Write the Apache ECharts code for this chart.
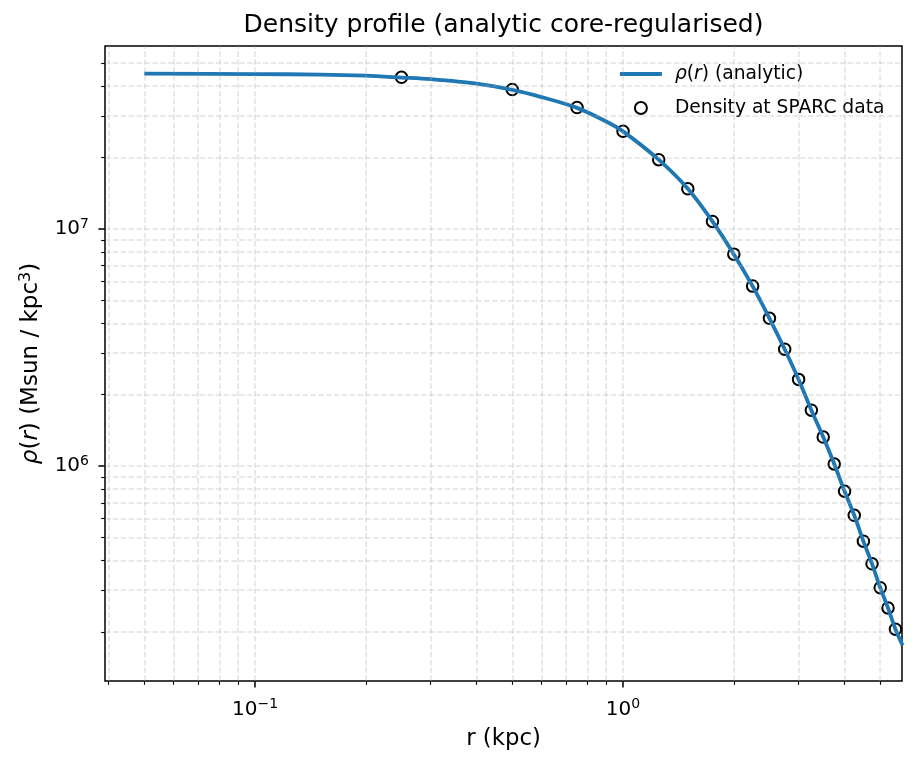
<!DOCTYPE html>
<html><head><meta charset="utf-8">
<script src="https://cdn.jsdelivr.net/npm/echarts@6/dist/echarts.min.js"></script>
<style>html,body{margin:0;padding:0;background:#fff}#c{width:917px;height:767px}</style>
</head><body><div id="c"></div>
<script>
// ---- data ----
const rData = [0.25, 0.5, 0.75, 1.0, 1.25, 1.5, 1.75, 2.0, 2.25, 2.5, 2.75, 3.0, 3.25, 3.5, 3.75, 4.0, 4.25, 4.5, 4.75, 5.0, 5.25, 5.5];
const rhoData = [4.36e7, 3.87e7, 3.25e7, 2.58e7, 1.96e7, 1.477e7, 1.076e7, 7.83e6, 5.74e6, 4.20e6, 3.11e6, 2.32e6, 1.72e6, 1.325e6, 1.02e6, 7.83e5, 6.20e5, 4.82e5, 3.87e5, 3.07e5, 2.52e5, 2.05e5];
const rCurve = [0.05, 0.1, 0.15, 0.2, 0.25, 0.3, 0.4, 0.5, 0.6, 0.75, 0.9, 1.0, 1.25, 1.5, 1.75, 2.0, 2.25, 2.5, 2.75, 3.0, 3.25, 3.5, 3.75, 4.0, 4.25, 4.5, 4.75, 5.0, 5.25, 5.5, 5.75];
const rhoCurve = [4.52e7, 4.50e7, 4.48e7, 4.43e7, 4.35e7, 4.28e7, 4.10e7, 3.86e7, 3.60e7, 3.24e7, 2.84e7, 2.58e7, 1.96e7, 1.477e7, 1.076e7, 7.83e6, 5.74e6, 4.20e6, 3.11e6, 2.32e6, 1.72e6, 1.325e6, 1.02e6, 7.83e5, 6.20e5, 4.82e5, 3.87e5, 3.07e5, 2.52e5, 2.05e5, 1.755e5];
const xMajorTicks = [0.1, 1];
const xMinorTicks = [0.04, 0.05, 0.06, 0.07, 0.08, 0.09, 0.2, 0.3, 0.4, 0.5, 0.6, 0.7, 0.8, 0.9, 2, 3, 4, 5];
const yMajorTicks = [1e6, 1e7];
const yMinorTicks = [2e5, 3e5, 4e5, 5e5, 6e5, 7e5, 8e5, 9e5, 2e6, 3e6, 4e6, 5e6, 6e6, 7e6, 8e6, 9e6, 2e7, 3e7, 4e7, 5e7];
const xRange = [0.0391, 5.73];
const yRange = [1.24e5, 5.91e7];
const titleText = 'Density profile (analytic core-regularised)';
const xName = 'r (kpc)';
const yName = '{i|ρ}({i|r}) (Msun / kpc{s|3})';
const lineName = 'rho_analytic';
const pointsName = 'Density at SPARC data';

const FONT = 'DejaVu Sans';
const chart = echarts.init(document.getElementById('c'), null, {renderer: 'canvas'});

function sciLabel(v) {
  const e = Math.round(Math.log10(v));
  return '{b|10}{s|' + (e < 0 ? '\u2212' : '') + Math.abs(e) + '}';
}
const tickRich = {
  b: {fontSize: 20, fontFamily: FONT, color: '#000', lineHeight: 24},
  s: {fontSize: 14, fontFamily: FONT, color: '#000', lineHeight: 14, verticalAlign: 'top'}
};

const gridLines = [];
xMajorTicks.concat(xMinorTicks).forEach(v => gridLines.push({xAxis: v}));
yMajorTicks.concat(yMinorTicks).forEach(v => gridLines.push({yAxis: v}));

const option = {
  animation: false,
  backgroundColor: '#fff',
  title: {
    text: titleText, left: 503.5, top: 13, textAlign: 'center', padding: 0,
    textStyle: {fontSize: 25, fontWeight: 'normal', color: '#000', fontFamily: FONT}
  },
  grid: {left: 105, top: 46, right: 15, bottom: 86, show: true, borderColor: '#000', borderWidth: 1.5,
         backgroundColor: 'transparent', containLabel: false, outerBoundsMode: 'none'},
  legend: {
    orient: 'vertical', left: 618, top: 64, padding: 0,
    itemWidth: 42, itemHeight: 12, itemGap: 14,
    data: [
      {name: lineName, itemStyle: {opacity: 0}, lineStyle: {width: 3.8, color: '#1f77b4'}},
      {name: pointsName, itemStyle: {color: 'rgba(0,0,0,0)', borderColor: '#000', borderWidth: 2, opacity: 1}}
    ],
    formatter: n => n === lineName ? '{i|ρ}({i|r}) (analytic)' : n,
    textStyle: {fontSize: 18.7, fontFamily: FONT, color: '#000', lineHeight: 20, padding: [0, 0, 0, 8],
      rich: {i: {fontSize: 18.7, fontFamily: FONT, fontStyle: 'italic', color: '#000'}}}
  },
  xAxis: [
    {type: 'log', logBase: 10, min: xRange[0], max: xRange[1], position: 'bottom',
     name: xName, nameLocation: 'middle', nameGap: 47, nameMoveOverlap: false,
     nameTextStyle: {fontSize: 22.8, fontFamily: FONT, color: '#000'},
     axisLine: {show: false},
     axisTick: {show: true, customValues: xMajorTicks, length: 6.6, lineStyle: {color: '#000', width: 1.5}},
     axisLabel: {show: true, customValues: xMajorTicks, margin: 16.5, formatter: sciLabel, rich: tickRich},
     splitLine: {show: false}, minorTick: {show: false}},
    {type: 'log', logBase: 10, min: xRange[0], max: xRange[1], position: 'bottom',
     axisLine: {show: false},
     axisTick: {show: true, customValues: xMinorTicks, length: 3.8, lineStyle: {color: '#000', width: 1.1}},
     axisLabel: {show: false}, splitLine: {show: false}}
  ],
  yAxis: [
    {type: 'log', logBase: 10, min: yRange[0], max: yRange[1], position: 'left',
     name: yName, nameLocation: 'middle', nameGap: 61, nameMoveOverlap: false,
     nameTextStyle: {fontSize: 23, fontFamily: FONT, color: '#000', lineHeight: 26,
       rich: {i: {fontSize: 23, fontFamily: FONT, fontStyle: 'italic', color: '#000', lineHeight: 26},
              s: {fontSize: 16, fontFamily: FONT, color: '#000', lineHeight: 12, verticalAlign: 'top'}}},
     axisLine: {show: false},
     axisTick: {show: true, customValues: yMajorTicks, length: 6.6, lineStyle: {color: '#000', width: 1.5}},
     axisLabel: {show: true, customValues: yMajorTicks, margin: 16, formatter: sciLabel, rich: tickRich},
     splitLine: {show: false}},
    {type: 'log', logBase: 10, min: yRange[0], max: yRange[1], position: 'left',
     axisLine: {show: false},
     axisTick: {show: true, customValues: yMinorTicks, length: 3.8, lineStyle: {color: '#000', width: 1.1}},
     axisLabel: {show: false}, splitLine: {show: false}}
  ],
  series: [
    {type: 'line', name: '_grid', data: [], xAxisIndex: 0, yAxisIndex: 0, z: 1, silent: true,
     markLine: {silent: true, symbol: 'none', animation: false, label: {show: false},
       lineStyle: {color: '#b0b0b0', opacity: 0.35, width: 1.6, type: [5.5, 2.4]},
       emphasis: {disabled: true}, data: gridLines}},
    {type: 'scatter', name: pointsName, xAxisIndex: 0, yAxisIndex: 0, z: 2,
     data: rData.map((r, i) => [r, rhoData[i]]),
     symbol: 'circle', symbolSize: 11.5,
     itemStyle: {color: 'rgba(0,0,0,0)', borderColor: '#000', borderWidth: 2, opacity: 1}},
    {type: 'line', name: lineName, xAxisIndex: 0, yAxisIndex: 0, z: 3,
     data: rCurve.map((r, i) => [r, rhoCurve[i]]),
     symbol: 'none', showSymbol: false, smooth: 0.3, clip: true,
     lineStyle: {color: '#1f77b4', width: 3.8}, itemStyle: {color: '#1f77b4'}}
  ]
};
chart.setOption(option);
</script></body></html>
